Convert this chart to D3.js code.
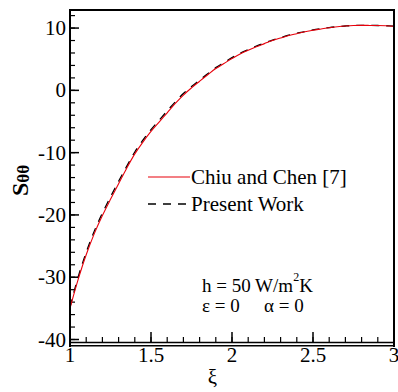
<!DOCTYPE html>
<html><head><meta charset="utf-8">
<script src="https://cdn.jsdelivr.net/npm/d3@7"></script>
<style>
html,body{margin:0;padding:0;background:#fff;font-family:"Liberation Serif",serif;}
</style></head>
<body>
<svg id="chart" width="398" height="392" style="font-family:'Liberation Serif',serif"></svg>
<script>
const xi = [1.0,1.05,1.1,1.15,1.2,1.25,1.3,1.35,1.4,1.45,1.5,1.55,1.6,1.65,1.7,1.75,1.8,1.85,1.9,1.95,2.0,2.05,2.1,2.15,2.2,2.25,2.3,2.35,2.4,2.45,2.5,2.55,2.6,2.65,2.7,2.75,2.8,2.85,2.9,2.95,3.0];
const chiuChen = [-35.0,-30.4,-26.4,-23.0,-20.1,-17.5,-15.0,-12.5,-10.2,-8.3,-6.6,-5.1,-3.6,-2.1,-0.75,0.4,1.46,2.5,3.5,4.3,5.1,5.85,6.45,7.0,7.5,8.0,8.4,8.8,9.1,9.4,9.65,9.85,10.05,10.2,10.32,10.4,10.43,10.42,10.4,10.36,10.3];
const presentWork = [-34.8,-30.0,-26.0,-22.6,-19.7,-17.1,-14.6,-12.2,-9.9,-8.0,-6.3,-4.8,-3.3,-1.85,-0.5,0.6,1.65,2.65,3.65,4.45,5.25,5.95,6.55,7.1,7.6,8.08,8.48,8.85,9.15,9.45,9.7,9.9,10.08,10.22,10.33,10.41,10.44,10.43,10.41,10.37,10.32];
const xMajor = [1,1.5,2,2.5,3];
const xTickLabels = ["1","1.5","2","2.5","3"];
const yMajor = [10,0,-10,-20,-30,-40];
const yTickLabels = ["10","0","-10","-20","-30","-40"];
const seriesNames = ["Chiu and Chen [7]","Present Work"];

const svg = d3.select("#chart");
const L=70, R=394, T=10, B=342;
const x = d3.scaleLinear().domain([1,3]).range([L,R]);
const y = d3.scaleLinear().domain([-40.4,12.9]).range([B,T]);

function txt(sel, size){ return sel.style("font-family","Liberation Serif, serif").style("font-size", size+"px"); }

const xMinor = d3.range(1,3.0001,0.1).map(v=>+v.toFixed(2));
const yMinor = d3.range(-40,12.0001,2);

const g = svg.append("g");
g.selectAll(".xmin").data(xMinor).enter().append("line")
  .attr("x1",d=>x(d)).attr("x2",d=>x(d)).attr("y1",B).attr("y2",B-5)
  .attr("stroke","#000").attr("stroke-width",1.2);
g.selectAll(".xmaj").data(xMajor).enter().append("line")
  .attr("x1",d=>x(d)).attr("x2",d=>x(d)).attr("y1",B).attr("y2",B-10)
  .attr("stroke","#000").attr("stroke-width",1.5);
g.selectAll(".ymin").data(yMinor).enter().append("line")
  .attr("x1",L).attr("x2",L+5).attr("y1",d=>y(d)).attr("y2",d=>y(d))
  .attr("stroke","#000").attr("stroke-width",1.2);
g.selectAll(".ymaj").data(yMajor).enter().append("line")
  .attr("x1",L).attr("x2",L+9).attr("y1",d=>y(d)).attr("y2",d=>y(d))
  .attr("stroke","#000").attr("stroke-width",1.5);

const line = d3.line().x((d,i)=>x(xi[i])).y(d=>y(d)).curve(d3.curveCatmullRom);
svg.append("path").datum(presentWork).attr("d",line)
  .attr("fill","none").attr("stroke","#000").attr("stroke-width",1.3).attr("stroke-dasharray","8,7");
svg.append("path").datum(chiuChen).attr("d",line)
  .attr("fill","none").attr("stroke","#e8000b").attr("stroke-width",1.1);

svg.append("line").attr("x1",L).attr("x2",L).attr("y1",T-1).attr("y2",B+5).attr("stroke","#000").attr("stroke-width",2);
svg.append("line").attr("x1",L-1).attr("x2",R+1).attr("y1",T).attr("y2",T).attr("stroke","#000").attr("stroke-width",2);
svg.append("line").attr("x1",R).attr("x2",R).attr("y1",T-1).attr("y2",B+5).attr("stroke","#000").attr("stroke-width",2);
svg.append("line").attr("x1",L-1).attr("x2",R+1).attr("y1",B+0.5).attr("y2",B+0.5).attr("stroke","#000").attr("stroke-width",1.6);
svg.append("line").attr("x1",L-1).attr("x2",R+1).attr("y1",B+3.8).attr("y2",B+3.8).attr("stroke","#000").attr("stroke-width",1.6);

txt(svg.selectAll(".xl").data(xMajor).enter().append("text"),21)
  .attr("x",d=>x(d)).attr("y",362).attr("text-anchor","middle")
  .text((d,i)=>xTickLabels[i]);
txt(svg.selectAll(".yl").data(yMajor).enter().append("text"),21)
  .attr("x",66).attr("y",d=>y(d)+7).attr("text-anchor","end")
  .text((d,i)=>yTickLabels[i]);

txt(svg.append("text"),21).attr("x",x(1.88)).attr("y",384).attr("text-anchor","middle").text("ξ");
const yt = txt(svg.append("text"),24).attr("transform","translate(28,196) rotate(-90)")
  .attr("text-anchor","start");
yt.append("tspan").style("font-weight","bold").text("S");
yt.append("tspan").style("font-size","17px").style("font-weight","bold").attr("dy",1).text("θθ");

svg.append("line").attr("x1",148).attr("x2",190).attr("y1",177).attr("y2",177)
  .attr("stroke","#e8000b").attr("stroke-width",1.1);
svg.append("line").attr("x1",148).attr("x2",190).attr("y1",204).attr("y2",204)
  .attr("stroke","#000").attr("stroke-width",1.3).attr("stroke-dasharray","8,7");
txt(svg.append("text"),21).attr("x",191).attr("y",184).text(seriesNames[0]);
txt(svg.append("text"),21).attr("x",191).attr("y",211).text(seriesNames[1]);

const a1 = txt(svg.append("text"),19).attr("x",202).attr("y",292);
a1.append("tspan").text("h = 50 W/m");
a1.append("tspan").style("font-size","12px").attr("dy",-11).text("2");
a1.append("tspan").attr("dy",11).text("K");
txt(svg.append("text"),19).attr("x",202).attr("y",312).text("ε = 0");
txt(svg.append("text"),19).attr("x",264).attr("y",312).text("α = 0");
</script>
</body></html>
